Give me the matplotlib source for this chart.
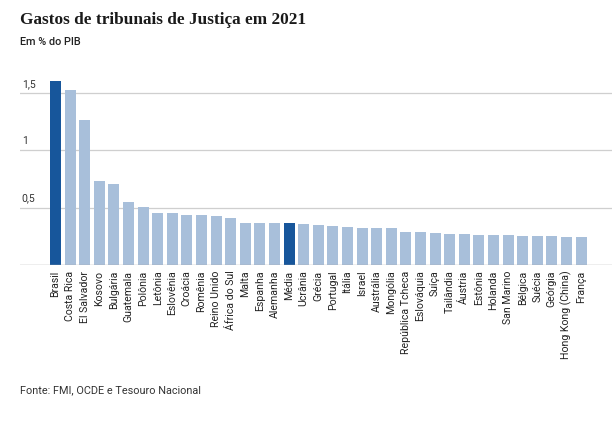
import numpy as np
import matplotlib.pyplot as plt

paises = ['Brasil', 'Costa Rica', 'El Salvador', 'Kosovo', 'Bulgária', 'Guatemala',
          'Polônia', 'Letônia', 'Eslovênia', 'Croácia', 'Romênia', 'Reino Unido',
          'África do Sul', 'Malta', 'Espanha', 'Alemanha', 'Média', 'Ucrânia', 'Grécia',
          'Portugal', 'Itália', 'Israel', 'Austrália', 'Mongólia', 'República Tcheca',
          'Eslováquia', 'Suíça', 'Tailândia', 'Áustria', 'Estônia', 'Holanda',
          'San Marino', 'Bélgica', 'Suécia', 'Geórgia', 'Hong Kong (China)', 'França']
gastos = [1.60, 1.53, 1.26, 0.73, 0.71, 0.55, 0.51, 0.45, 0.45, 0.44, 0.44, 0.43,
          0.41, 0.37, 0.37, 0.37, 0.365, 0.36, 0.35, 0.34, 0.33, 0.32, 0.32, 0.32,
          0.29, 0.29, 0.28, 0.27, 0.27, 0.26, 0.26, 0.26, 0.25, 0.25, 0.25, 0.24, 0.24]
destaques = ['Brasil', 'Média']
yticks = [0.5, 1, 1.5]
ytick_labels = ['0,5', '1', '1,5']

escuro = '#17569b'
claro = '#a8bfda'
cores = [escuro if p in destaques else claro for p in paises]

fig = plt.figure(figsize=(6.14, 4.22), dpi=100)
ax = fig.add_axes([20 / 614, 157 / 422, 592 / 614, 195 / 422])

x = np.arange(len(paises))
ax.bar(x, gastos, width=0.75, color=cores, zorder=3)

ax.set_xlim(-2.43, 38.12)
ax.set_ylim(0, 1.7)

# grade horizontal e rótulos acima das linhas
for v, lab in zip(yticks, ytick_labels):
    ax.axhline(v, color='#cfcfcf', lw=0.9, zorder=1)
    ax.annotate(lab, xy=(0.003, v), xycoords=('axes fraction', 'data'),
                xytext=(0, 3), textcoords='offset points', ha='left', va='bottom',
                fontsize=7.5, color='#333333', family='Roboto')
ax.axhline(0, color='#aaaaaa', lw=1.0, zorder=4)

ax.set_yticks([])
ax.set_xticks(x)
ax.set_xticklabels(paises, rotation=90, fontsize=7.6, family='Roboto', color='#222222')
ax.tick_params(axis='x', length=0, pad=4)
for s in ax.spines.values():
    s.set_visible(False)

fig.text(20 / 614, 1 - 20 / 422, 'Gastos de tribunais de Justiça em 2021',
         family='Liberation Serif', weight='bold', fontsize=12.4, color='#1a1a1a',
         ha='left', va='center')
fig.text(20 / 614, 1 - 42 / 422, 'Em % do PIB', family='Roboto', fontsize=7.8,
         weight='medium', color='#222222', ha='left', va='center')
fig.text(20 / 614, 1 - 390 / 422, 'Fonte: FMI, OCDE e Tesouro Nacional', family='Roboto',
         fontsize=7.8, color='#333333', ha='left', va='center')

fig.savefig('out.png', dpi=100)
